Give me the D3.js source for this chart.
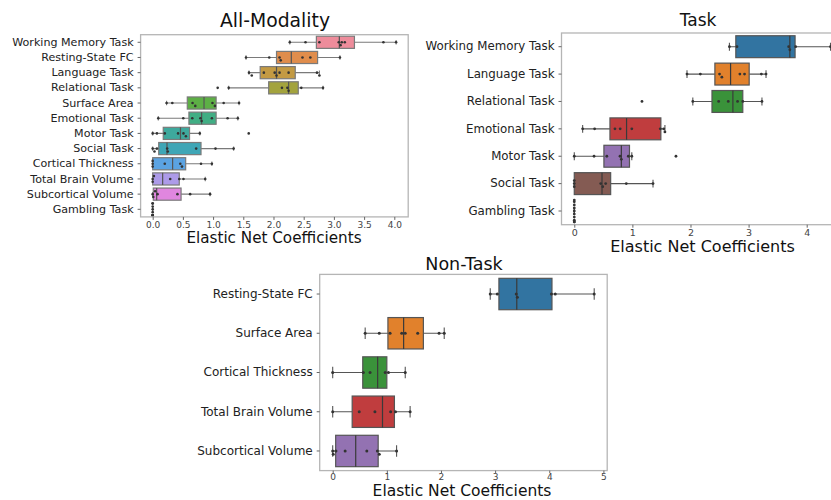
<!DOCTYPE html>
<html><head><meta charset="utf-8">
<script src="https://cdn.jsdelivr.net/npm/d3@7"></script>
<style>body{margin:0;background:#fff;} svg{display:block;font-family:"DejaVu Sans",sans-serif;}</style>
</head><body>
<svg id="chart" width="831" height="500"></svg>
<script>
// ---------------- DATA ----------------
// Panel 1: All-Modality
const allCategories = ["Working Memory Task","Resting-State FC","Language Task","Relational Task","Surface Area","Emotional Task","Motor Task","Social Task","Cortical Thickness","Total Brain Volume","Subcortical Volume","Gambling Task"];
const allWhiskerLo = [2.27,1.545,1.594,1.258,0.23,0.093,0.0,0.0,0.0,0.0,0.0,0.0];
const allQ1        = [2.71,2.05,1.78,1.92,0.573,0.60,0.175,0.10,0.0,0.0,0.01,0.0];
const allMedian    = [3.09,2.295,2.05,2.25,0.85,0.81,0.46,0.237,0.33,0.165,0.066,0.0];
const allQ3        = [3.34,2.73,2.36,2.41,1.05,1.05,0.61,0.80,0.546,0.44,0.47,0.0];
const allWhiskerHi = [4.03,3.10,2.76,2.82,1.43,1.41,0.78,1.34,0.98,0.87,0.95,0.0];
const allPoints = [
  [2.27,2.53,2.76,3.08,3.11,3.13,3.18,3.82,4.03],
  [1.545,1.93,2.10,2.12,2.48,2.61,3.10],
  [1.594,1.64,1.84,2.02,2.05,2.10,2.25,2.72,2.76],
  [1.076,1.258,2.14,2.23,2.25,2.46,2.82],
  [0.23,0.325,0.66,0.705,0.99,1.03,1.175,1.43],
  [0.093,0.507,0.656,0.79,0.81,0.98,1.24,1.41],
  [0.0,0.07,0.20,0.42,0.51,0.55,0.78,1.59],
  [0.0,0.03,0.07,0.24,0.25,0.72,1.04,1.34],
  [0.0,0.0,0.0,0.2,0.457,0.485,0.80,0.98],
  [0.0,0.0,0.02,0.29,0.44,0.51,0.87],
  [0.0,0.01,0.04,0.08,0.41,0.62,0.95],
  [0,0,0,0,0,0,0,0,0,0]
];
const allColors = ["#ee8c9b","#e08d4c","#c39a43","#a3a33d","#5daf45","#41ae84","#3ea99d","#3fa6b6","#5ba3e2","#ad9be9","#e086df","#ef87bb"];
const allTicks = [0,0.5,1,1.5,2,2.5,3,3.5,4];

// Panel 2: Task
const taskCategories = ["Working Memory Task","Language Task","Relational Task","Emotional Task","Motor Task","Social Task","Gambling Task"];
const taskWhiskerLo = [2.67,1.94,2.04,0.144,0.0,0.0,0.0];
const taskQ1        = [2.78,2.42,2.37,0.614,0.51,0.0,0.0];
const taskMedian    = [3.71,2.69,2.73,0.90,0.81,0.477,0.0];
const taskQ3        = [3.80,3.01,2.90,1.49,0.95,0.626,0.0];
const taskWhiskerHi = [4.41,3.30,3.23,1.56,0.99,1.355,0.0];
const taskPoints = [
  [2.67,2.80,3.69,3.71,3.81,4.41],
  [1.94,2.17,2.50,2.54,2.85,2.93,3.22,3.30],
  [1.165,2.04,2.485,2.65,2.81,2.90,3.23],
  [0.144,0.35,0.70,0.79,0.99,1.48,1.54,1.56],
  [0.0,0.34,0.56,0.787,0.81,0.93,0.99,1.75],
  [0.0,0.0,0.0,0.455,0.49,0.54,0.895,1.355],
  [0,0,0,0,0,0,0,0,0,0]
];
const taskColors = ["#3274a1","#e1812c","#3a923a","#c03d3e","#9372b2","#845b53","#d684bd"];
const taskTicks = [0,1,2,3,4];

// Panel 3: Non-Task
const nonCategories = ["Resting-State FC","Surface Area","Cortical Thickness","Total Brain Volume","Subcortical Volume"];
const nonWhiskerLo = [2.91,0.60,0.0,0.0,0.0];
const nonQ1        = [3.07,1.02,0.555,0.36,0.055];
const nonMedian    = [3.40,1.31,0.83,0.92,0.425];
const nonQ3        = [4.05,1.675,1.0,1.14,0.84];
const nonWhiskerHi = [4.83,2.06,1.34,1.43,1.18];
const nonPoints = [
  [2.91,3.04,3.39,3.41,4.04,4.11,4.83],
  [0.60,0.86,1.06,1.275,1.34,1.57,1.965,2.06],
  [0.0,0.566,0.69,0.97,1.03,1.34],
  [0.0,0.49,0.78,1.07,1.16,1.43],
  [0.0,0.01,0.06,0.23,0.63,0.825,0.86,1.18]
];
const nonColors = ["#3274a1","#e1812c","#3a923a","#c03d3e","#9372b2"];
const nonTicks = [0,1,2,3,4,5];

const xLabel = "Elastic Net Coefficients";

// ---------------- DRAW ----------------
const svg = d3.select("#chart");
svg.append("rect").attr("width",831).attr("height",500).attr("fill","#fff");

function drawPanel(cfg){
  const g = svg.append("g");
  const x = d3.scaleLinear().domain(cfg.domain).range([cfg.left, cfg.right]);
  const y = d3.scaleBand().domain(cfg.cats).range([cfg.top, cfg.bottom]).paddingInner(0).paddingOuter(0);
  const bw = y.bandwidth();
  const boxH = bw*0.8;
  const capH = boxH*0.36;

  const clipId = "clip"+cfg.id;
  g.append("clipPath").attr("id",clipId).append("rect")
    .attr("x",cfg.left).attr("y",cfg.top-4).attr("width",cfg.right-cfg.left).attr("height",cfg.bottom-cfg.top+8);
  const plot = g.append("g").attr("clip-path",`url(#${clipId})`);

  // frame
  g.append("rect").attr("x",cfg.left).attr("y",cfg.top).attr("width",cfg.right-cfg.left).attr("height",cfg.bottom-cfg.top)
    .attr("fill","none").attr("stroke","#b5b5b5").attr("stroke-width",1.3);

  // x axis
  const xAxis = d3.axisBottom(x).tickValues(cfg.ticks).tickFormat(cfg.fmt).tickSize(cfg.tickLen).tickPadding(cfg.tickPad);
  const ax = g.append("g").attr("transform",`translate(0,${cfg.bottom})`).call(xAxis);
  ax.select(".domain").remove();
  ax.selectAll(".tick line").attr("stroke","#666");
  ax.selectAll(".tick text").attr("fill","#444").style("font-size",cfg.tickSize+"px").attr("font-family","DejaVu Sans");

  // y axis
  const yAxis = d3.axisLeft(y).tickSize(3).tickPadding(4);
  const ay = g.append("g").attr("transform",`translate(${cfg.left},0)`).call(yAxis);
  ay.select(".domain").remove();
  ay.selectAll(".tick line").attr("stroke","#666");
  ay.selectAll(".tick text").attr("fill","#222").style("font-size",cfg.labelSize+"px").attr("font-family","DejaVu Sans");

  cfg.cats.forEach((c,i)=>{
    const cy = y(c)+bw/2;
    const col = cfg.colors[i];
    // whiskers
    plot.append("line").attr("x1",x(cfg.lo[i])).attr("x2",x(cfg.q1[i])).attr("y1",cy).attr("y2",cy).attr("stroke",cfg.edge).attr("stroke-width",1.1);
    plot.append("line").attr("x1",x(cfg.q3[i])).attr("x2",x(cfg.hi[i])).attr("y1",cy).attr("y2",cy).attr("stroke",cfg.edge).attr("stroke-width",1.1);
    [cfg.lo[i],cfg.hi[i]].forEach(v=>{
      plot.append("line").attr("x1",x(v)).attr("x2",x(v)).attr("y1",cy-capH/2).attr("y2",cy+capH/2).attr("stroke",cfg.edge).attr("stroke-width",1.1);
    });
    // box
    if(cfg.q3[i]>cfg.q1[i]){
      plot.append("rect").attr("x",x(cfg.q1[i])).attr("y",cy-boxH/2).attr("width",x(cfg.q3[i])-x(cfg.q1[i])).attr("height",boxH)
        .attr("fill",col).attr("stroke",cfg.edge).attr("stroke-width",1.2);
      plot.append("line").attr("x1",x(cfg.med[i])).attr("x2",x(cfg.med[i])).attr("y1",cy-boxH/2).attr("y2",cy+boxH/2)
        .attr("stroke",cfg.medEdge).attr("stroke-width",1.2);
    }
    // swarm points
    const r = cfg.r, d = 2*r+0.25, lim = boxH/2;
    const placed = [];
    cfg.points[i].slice().sort((a,b)=>a-b).forEach(v=>{
      const px = x(v);
      let off = 0;
      for(let k=0;k<60;k++){
        const cand = k===0?0:(k%2===1? Math.ceil(k/2)*d : -Math.ceil(k/2)*d);
        const ok = placed.every(p=>Math.hypot(p[0]-px,p[1]-cand)>=d-0.01);
        if(ok){off=cand;break;}
        off = cand;
      }
      off = Math.max(-lim,Math.min(lim,off));
      placed.push([px,off]);
      plot.append("circle").attr("cx",px).attr("cy",cy+off).attr("r",r).attr("fill","#333");
    });
  });

  // title
  g.append("text").attr("x",cfg.titleX).attr("y",cfg.titleY).attr("text-anchor","middle")
    .style("font-size",cfg.titleSize+"px").attr("fill","#111").text(cfg.title);
  // x label
  g.append("text").attr("x",cfg.xlabX).attr("y",cfg.xlabY).attr("text-anchor","middle")
    .style("font-size",cfg.xlabSize+"px").attr("fill","#111").text(xLabel);
}

drawPanel({id:1, cats:allCategories, lo:allWhiskerLo, q1:allQ1, med:allMedian, q3:allQ3, hi:allWhiskerHi,
  points:allPoints, colors:allColors, ticks:allTicks, fmt:d3.format(".1f"),
  domain:[-0.2,4.23], left:140.6, right:408.2, top:34.7, bottom:216.9,
  edge:"#7a7a7a", medEdge:"#555", r:1.3, tickSize:9, tickLen:3, tickPad:2, labelSize:11.1,
  title:"All-Modality", titleX:275, titleY:27, titleSize:18.8,
  xlabX:274, xlabY:243, xlabSize:15.2});

drawPanel({id:2, cats:taskCategories, lo:taskWhiskerLo, q1:taskQ1, med:taskMedian, q3:taskQ3, hi:taskWhiskerHi,
  points:taskPoints, colors:taskColors, ticks:taskTicks, fmt:d3.format("d"),
  domain:[-0.22,4.63], left:561.5, right:843.3, top:33.0, bottom:224.7,
  edge:"#555", medEdge:"#3a3a3a", r:1.4, tickSize:9.5, tickLen:3, tickPad:2, labelSize:11.8,
  title:"Task", titleX:698, titleY:26, titleSize:17,
  xlabX:702.5, xlabY:252, xlabSize:16});

drawPanel({id:3, cats:nonCategories, lo:nonWhiskerLo, q1:nonQ1, med:nonMedian, q3:nonQ3, hi:nonWhiskerHi,
  points:nonPoints, colors:nonColors, ticks:nonTicks, fmt:d3.format("d"),
  domain:[-0.24,5.07], left:319.7, right:607.2, top:274.4, bottom:470.6,
  edge:"#555", medEdge:"#3a3a3a", r:1.5, tickSize:9, tickLen:2.5, tickPad:0.5, labelSize:12,
  title:"Non-Task", titleX:464, titleY:270, titleSize:17.5,
  xlabX:462, xlabY:496, xlabSize:15.5});
</script>
</body></html>
